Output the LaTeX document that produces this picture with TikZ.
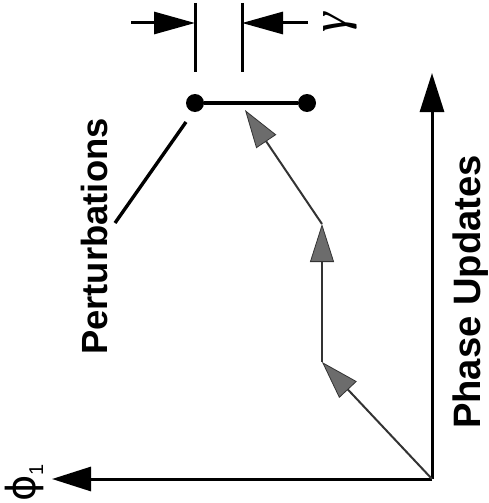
\documentclass[tikz,border=0pt]{standalone}
\usepackage{fontspec}
\setmainfont{Liberation Sans}
\newfontfamily\greekfont{DejaVu Sans}
\newfontfamily\gammafont{Liberation Serif}
\usetikzlibrary{arrows.meta}
\begin{document}
\begin{tikzpicture}[x=1pt,y=-1pt,
  axisline/.style={line width=3pt, -{Triangle[length=39pt,width=24pt]}},
  dimarrow/.style={line width=3pt, -{Triangle[length=41pt,width=22pt]}},
  dimtick/.style={line width=3pt},
  trajline/.style={line width=2pt, draw=gray!40!black,
    -{Triangle[length=38pt,width=24pt,fill=gray!85!black,color=gray!40!black,line width=0.8pt]}},
  lbl/.style={font=\bfseries, rotate=90, inner sep=0pt, anchor=base},
  dotnode/.style={circle, fill=black, minimum size=18pt, inner sep=0pt},
  bar/.style={line width=3.4pt}
]
\useasboundingbox (0,0) rectangle (488,503);

% axes
\coordinate (O) at (432,479);
\coordinate (Ytip) at (432,73);
\coordinate (Xtip) at (52,479);
\draw[axisline] (O) -- (Ytip);
\draw[axisline] (O) -- (Xtip);

% trajectory
\coordinate (P1) at (322,362);
\coordinate (P2) at (322,224);
\coordinate (P3) at (245,110);
\draw[trajline] (O) -- (P1);
\draw[trajline] (P1) -- (P2);
\draw[trajline] (P2) -- (P3);

% perturbation segment
\node[dotnode] (D1) at (195,103) {};
\node[dotnode] (D2) at (307,103) {};
\draw[bar] (D1) -- (D2);

% pointer line
\coordinate (L1) at (186,122);
\coordinate (L2) at (115,223);
\draw[bar] (L1) -- (L2);

% dimension marks
\coordinate (T1a) at (195,3);
\coordinate (T1b) at (195,72);
\coordinate (T2a) at (242,3);
\coordinate (T2b) at (242,72);
\draw[dimtick] (T1a) -- (T1b);
\draw[dimtick] (T2a) -- (T2b);
\coordinate (A1s) at (131,23);
\coordinate (A1e) at (195,23);
\coordinate (A2s) at (308,23);
\coordinate (A2e) at (242,23);
\draw[dimarrow] (A1s) -- (A1e);
\draw[dimarrow] (A2s) -- (A2e);

% labels
\node[lbl, font=\bfseries\fontsize{36.4}{40}\selectfont] (pert) at (107,236.5) {Perturbations};
\node[lbl, font=\bfseries\fontsize{38.2}{42}\selectfont] (pu) at (480,292) {Phase Updates};
\node[rotate=90, anchor=base, inner sep=0pt, font=\fontsize{40}{40}\selectfont] (phi) at (35,483)
  {\greekfont ϕ\raisebox{-0.2em}{\fontsize{20}{20}\selectfont\normalfont 1}};
\node[rotate=90, inner sep=0pt, font=\gammafont\itshape\fontsize{50}{50}\selectfont] (gam) at (340,23) {γ};
\end{tikzpicture}
\end{document}
